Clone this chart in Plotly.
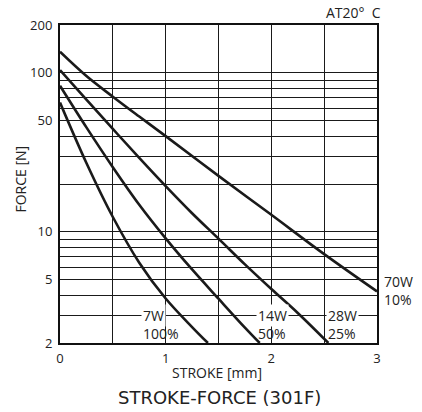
import math
import plotly.graph_objects as go

# ---- data ----
x_70w = [0, 0.25, 0.5, 0.75, 1.0, 1.5, 2.0, 2.5, 3.0]
f_70w = [135.8, 95.5, 70.8, 53.1, 40, 22.5, 12.8, 7.24, 4.22]

x_28w = [0, 0.25, 0.5, 0.75, 1.0, 1.25, 1.5, 1.75, 2.0, 2.25, 2.54]
f_28w = [104, 67.8, 44.4, 29.2, 19.4, 13.1, 9.06, 6.24, 4.37, 3.09, 2.0]

x_14w = [0, 0.25, 0.5, 0.75, 1.0, 1.25, 1.5, 1.75, 1.89]
f_14w = [83, 45.4, 25.5, 14.8, 9.1, 5.8, 3.8, 2.5, 2.0]

x_7w = [0, 0.25, 0.5, 0.75, 1.0, 1.25, 1.40]
f_7w = [65, 27.1, 12.4, 6.4, 3.81, 2.52, 2.0]

x_tickvals = [0, 0.5, 1, 1.5, 2, 2.5, 3]
x_ticktext = ["0", "", "1", "", "2", "", "3"]
y_tickvals = [2, 3, 4, 5, 6, 7, 8, 9, 10, 20, 30, 40, 50, 60, 70, 80, 90, 100, 200]
y_ticktext = ["2", "", "", "5", "", "", "", "", "10", "", "", "", "50", "", "", "", "", "100", "200"]

labels_watt = ["7W", "14W", "28W"]
labels_pct = ["100%", "50%", "25%"]
label_x = [0.771, 1.852, 2.52]
label_70w = "70W<br>10%"

fig = go.Figure()
for xs, fs in [(x_70w, f_70w), (x_28w, f_28w), (x_14w, f_14w), (x_7w, f_7w)]:
    fig.add_trace(go.Scatter(x=xs, y=fs, mode="lines",
                             line=dict(color="#1a1a1a", width=2.6, shape="spline", smoothing=1.0),
                             hoverinfo="skip"))

LBL = dict(family="Open Sans", size=14, color="#222")
for w, p, lx in zip(labels_watt, labels_pct, label_x):
    fig.add_annotation(x=lx, y=math.log10(3), xref="x", yref="y", text=w, showarrow=False,
                       xanchor="left", yanchor="middle", bgcolor="white", borderpad=1, font=LBL)
    fig.add_annotation(x=lx, y=math.log10(2.3), xref="x", yref="y", text=p, showarrow=False,
                       xanchor="left", yanchor="middle", font=LBL)

fig.add_annotation(x=1.016, y=math.log10(4.3), xref="paper", yref="y", text=label_70w, showarrow=False,
                   xanchor="left", yanchor="middle", align="left", font=LBL)

fig.add_annotation(x=-0.1246, y=0.5155, xref="paper", yref="paper", text="FORCE [N]", showarrow=False,
                   textangle=-90, xanchor="center", yanchor="middle", font=dict(family="Open Sans", size=14, color="#222"))
fig.add_annotation(x=0.495, y=-0.094, xref="paper", yref="paper", text="STROKE [mm]", showarrow=False,
                   xanchor="center", yanchor="middle", font=dict(family="Open Sans", size=14, color="#222"))
fig.add_annotation(x=0.503, y=-0.17, xref="paper", yref="paper", text="STROKE-FORCE (301F)", showarrow=False,
                   xanchor="center", yanchor="middle", font=dict(family="DejaVu Sans", size=18, color="#222"))
fig.add_annotation(x=1.019, y=1.039, xref="paper", yref="paper", text="AT20°\u00a0\u00a0C", showarrow=False,
                   xanchor="right", yanchor="middle", font=dict(family="Open Sans", size=14, color="#222"))

fig.update_layout(
    width=422, height=412,
    margin=dict(l=60, r=45, t=25, b=69),
    plot_bgcolor="white", paper_bgcolor="white",
    showlegend=False,
    font=dict(family="Open Sans", size=13, color="#222"),
)
fig.update_xaxes(range=[0, 3], tickvals=x_tickvals, ticktext=x_ticktext,
                 showgrid=True, gridcolor="#1a1a1a", gridwidth=1,
                 showline=True, mirror=True, linecolor="#111", linewidth=2,
                 zeroline=False, ticks="", ticklabelstandoff=2)
fig.update_yaxes(type="log", range=[math.log10(2), math.log10(200)],
                 tickvals=y_tickvals, ticktext=y_ticktext,
                 showgrid=True, gridcolor="#1a1a1a", gridwidth=1,
                 showline=True, mirror=True, linecolor="#111", linewidth=2,
                 zeroline=False, ticks="", ticklabelstandoff=3)

fig.write_html("out.html", config={"displayModeBar": False},
               post_script="document.body.style.margin='0';document.body.style.overflow='hidden';")
